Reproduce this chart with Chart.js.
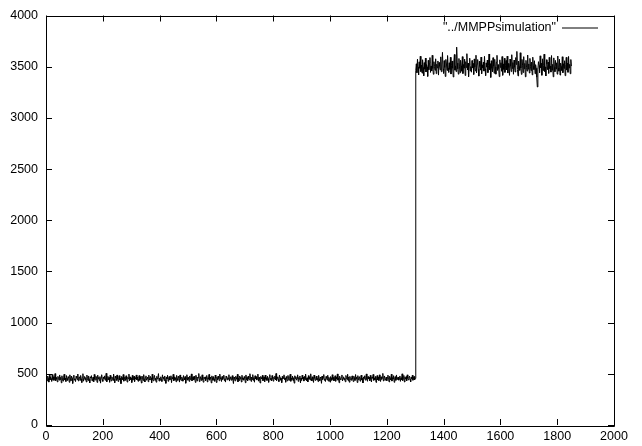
<!DOCTYPE html>
<html>
<head>
<meta charset="utf-8">
<script src="https://cdn.jsdelivr.net/npm/chart.js@4.4.1/dist/chart.umd.min.js"></script>
<style>
  html, body { margin:0; padding:0; background:#fff; }
  #c { display:block; }
</style>
</head>
<body>
<canvas id="c" width="642" height="446"></canvas>
<script>
// sample spacing along x
var xStep = 2;
var lowStart = 0;
var highStart = 1302;

// level before the switch (x = 0 .. 1300)
var lowValues = [
  447,462,431,478,455,419,486,440,468,452,427,493,445,471,436,459,502,433,464,448,
  421,475,457,438,489,444,466,412,481,450,429,467,496,441,458,425,483,453,436,472,
  460,417,490,446,433,478,455,406,469,487,439,451,424,476,462,443,498,430,458,471,
  437,484,449,415,466,501,428,457,474,440,463,420,488,452,434,479,445,411,470,459,
  482,431,455,468,423,494,447,439,476,458,416,487,450,465,432,473,409,461,491,444,
  426,469,453,480,437,460,505,422,449,475,441,464,418,486,452,430,471,457,436,498,
  446,413,477,461,434,489,450,425,467,482,439,456,404,474,462,443,493,428,459,470,
  435,481,448,419,466,452,497,431,470,444,460,415,485,438,457,476,424,462,450,489,
  441,468,427,455,483,436,472,449,410,478,461,433,492,446,420,464,480,437,455,469,
  423,487,452,440,474,459,412,496,445,431,466,484,438,457,418,475,449,463,502,429,
  458,437,471,446,425,490,454,466,433,479,442,407,468,451,486,427,460,474,439,455,
  481,414,463,449,495,432,470,443,458,422,485,453,436,476,461,419,489,447,434,468,
  452,428,483,460,441,473,408,456,491,437,465,450,426,479,444,462,499,431,457,471,
  439,476,447,416,486,453,430,468,459,503,424,448,472,435,461,490,442,418,465,454,
  470,433,457,484,421,462,446,494,438,469,452,411,480,459,436,473,448,427,488,456,
  415,466,441,478,454,432,497,450,463,425,474,445,460,487,434,452,419,477,465,440,
  463,448,491,429,456,471,437,459,482,443,405,468,453,430,476,461,447,495,422,458,
  434,479,451,467,420,486,445,460,438,473,456,413,489,442,464,431,478,452,440,501,
  457,426,469,444,492,436,463,418,481,450,472,439,455,497,428,466,445,410,474,461,
  449,485,432,458,470,423,488,447,461,435,476,453,417,467,492,441,459,430,483,454,
  428,466,452,479,440,503,434,457,471,446,424,487,462,438,455,414,475,449,466,490,
  443,460,418,473,455,431,484,451,437,469,496,427,458,445,478,432,462,409,481,453,
  472,438,456,490,426,464,447,479,412,459,436,486,450,467,429,475,443,498,455,433,
  461,421,482,448,467,439,500,453,430,471,446,416,488,457,435,463,477,442,454,424,
  485,450,433,469,456,407,478,444,462,493,437,451,425,474,459,440,486,429,466,448,
  419,473,458,436,491,446,464,431,455,481,427,468,450,499,438,460,413,477,452,443,
  466,489,430,454,471,440,457,422,484,461,445,496,433,469,418,475,452,437,463,480,
  447,424,476,459,435,493,450,468,415,482,441,458,472,428,464,487,439,455,411,470,
  456,481,438,462,499,444,427,473,451,466,432,485,447,420,469,457,494,436,460,442,
  475,416,458,483,441,467,434,490,453,425,471,446,462,504,430,456,479,438,451,468,
  432,464,487,447,421,476,455,441,496,429,463,450,482,417,458,472,436,489,445,460,
  469,438,452,479,426,461,443,500,434,457,484,420,466,448,473,431,490,455,440,463,
  478,445,421,468,452,486,437,459,474,441,455
];

// level after the switch (x = 1302 .. 1850)
var highValues = [
  3462,3528,3441,3573,3496,3419,3547,3485,3602,3452,3516,3437,3568,3493,3411,3539,3476,3584,3448,3521,
  3497,3405,3562,3470,3533,3589,3444,3507,3458,3611,3482,3426,3549,3501,3465,3577,3432,3524,3488,3556,
  3418,3541,3503,3469,3596,3451,3517,3640,3478,3435,3559,3492,3404,3571,3526,3463,3609,3487,3445,3538,
  3474,3592,3428,3512,3556,3483,3399,3545,3619,3466,3508,3452,3691,3535,3479,3427,3580,3498,3441,3563,
  3509,3456,3598,3433,3521,3487,3574,3414,3549,3492,3627,3468,3536,3402,3515,3583,3459,3501,3446,3560,
  3487,3531,3424,3576,3495,3458,3612,3439,3524,3570,3475,3408,3553,3502,3466,3594,3431,3518,3489,3545,
  3457,3601,3479,3413,3537,3496,3565,3442,3510,3624,3471,3529,3395,3558,3484,3449,3588,3506,3436,3572,
  3498,3427,3546,3611,3463,3520,3481,3403,3567,3493,3538,3455,3599,3416,3527,3474,3582,3444,3512,3560,
  3469,3603,3438,3531,3491,3415,3575,3508,3452,3617,3483,3540,3426,3564,3497,3448,3589,3521,3649,3473,
  3410,3555,3502,3464,3636,3487,3425,3571,3515,3443,3598,3479,3532,3401,3562,3494,3457,3614,3476,3527,
  3438,3581,3499,3461,3545,3420,3593,3506,3472,3558,3431,3520,3484,3397,3302,3474,3549,3511,3442,3606,
  3489,3533,3416,3577,3462,3515,3622,3453,3498,3409,3568,3527,3471,3544,3435,3591,3482,3506,3447,3609,
  3466,3523,3401,3586,3495,3451,3561,3478,3538,3427,3604,3490,3456,3572,3418,3535,3502,3463,3597,3441,
  3529,3484,3558,3412,3519,3591,3467,3536,3445,3600,3488,3523,3431,3570,3506
];

var xTicks = [0,200,400,600,800,1000,1200,1400,1600,1800,2000];
var yTicks = [0,500,1000,1500,2000,2500,3000,3500,4000];
var seriesName = '"../MMPPsimulation"';

var points = lowValues.map(function(v,i){ return { x: lowStart + i*xStep, y: v }; })
  .concat(highValues.map(function(v,i){ return { x: highStart + i*xStep, y: v }; }));

var FONT = '"Liberation Sans", Arial, Helvetica, sans-serif';

// gnuplot style frame: box, inward ticks on all four sides, key in the corner
var frame = {
  id: 'frame',
  afterDraw: function(chart){
    var ctx = chart.ctx, a = chart.chartArea;
    var sx = chart.scales.x, sy = chart.scales.y;
    var L = 6;
    ctx.save();
    ctx.strokeStyle = '#000';
    ctx.lineWidth = 1;
    ctx.beginPath();
    ctx.rect(Math.round(a.left)+0.5, Math.round(a.top)+0.5,
             Math.round(a.right-a.left), Math.round(a.bottom-a.top));
    xTicks.forEach(function(t){
      var px = Math.round(sx.getPixelForValue(t))+0.5;
      ctx.moveTo(px, a.bottom); ctx.lineTo(px, a.bottom-L);
      ctx.moveTo(px, a.top); ctx.lineTo(px, a.top+L);
    });
    yTicks.forEach(function(t){
      var py = Math.round(sy.getPixelForValue(t))+0.5;
      ctx.moveTo(a.left, py); ctx.lineTo(a.left+L, py);
      ctx.moveTo(a.right, py); ctx.lineTo(a.right-L, py);
    });
    ctx.stroke();

    // key
    var ky = a.top + 12;
    var lineEnd = a.right - 16, lineStart = lineEnd - 36;
    ctx.font = '12.5px ' + FONT;
    ctx.fillStyle = '#000';
    ctx.textAlign = 'right';
    ctx.textBaseline = 'middle';
    ctx.fillText(seriesName, lineStart - 6, ky);
    ctx.beginPath();
    ctx.moveTo(lineStart, ky + 0.5); ctx.lineTo(lineEnd, ky + 0.5);
    ctx.stroke();
    ctx.restore();
  }
};

new Chart(document.getElementById('c').getContext('2d'), {
  type: 'line',
  data: {
    datasets: [{
      label: seriesName,
      data: points,
      borderColor: '#000',
      borderWidth: 1,
      pointRadius: 0,
      tension: 0,
      fill: false
    }]
  },
  options: {
    responsive: false,
    animation: false,
    parsing: false,
    layout: { padding: { top: 12, right: 28, left: 0, bottom: 0 } },
    plugins: { legend: { display: false }, tooltip: { enabled: false } },
    scales: {
      x: {
        type: 'linear', min: 0, max: 2000,
        afterBuildTicks: function(s){ s.ticks = xTicks.map(function(v){ return { value: v }; }); },
        afterFit: function(s){ s.height = 21; },
        grid: { display: false, drawTicks: false },
        border: { display: false },
        ticks: { color: '#000', padding: 4, maxRotation: 0, autoSkip: false,
                 callback: function(v){ return String(v); },
                 font: { family: FONT, size: 12.5 } }
      },
      y: {
        type: 'linear', min: 0, max: 4000,
        afterBuildTicks: function(s){ s.ticks = yTicks.map(function(v){ return { value: v }; }); },
        afterFit: function(s){ s.width = 46; },
        grid: { display: false, drawTicks: false },
        border: { display: false },
        ticks: { color: '#000', padding: 8, autoSkip: false,
                 callback: function(v){ return String(v); },
                 font: { family: FONT, size: 12.5 } }
      }
    }
  },
  plugins: [frame]
});
</script>
</body>
</html>
